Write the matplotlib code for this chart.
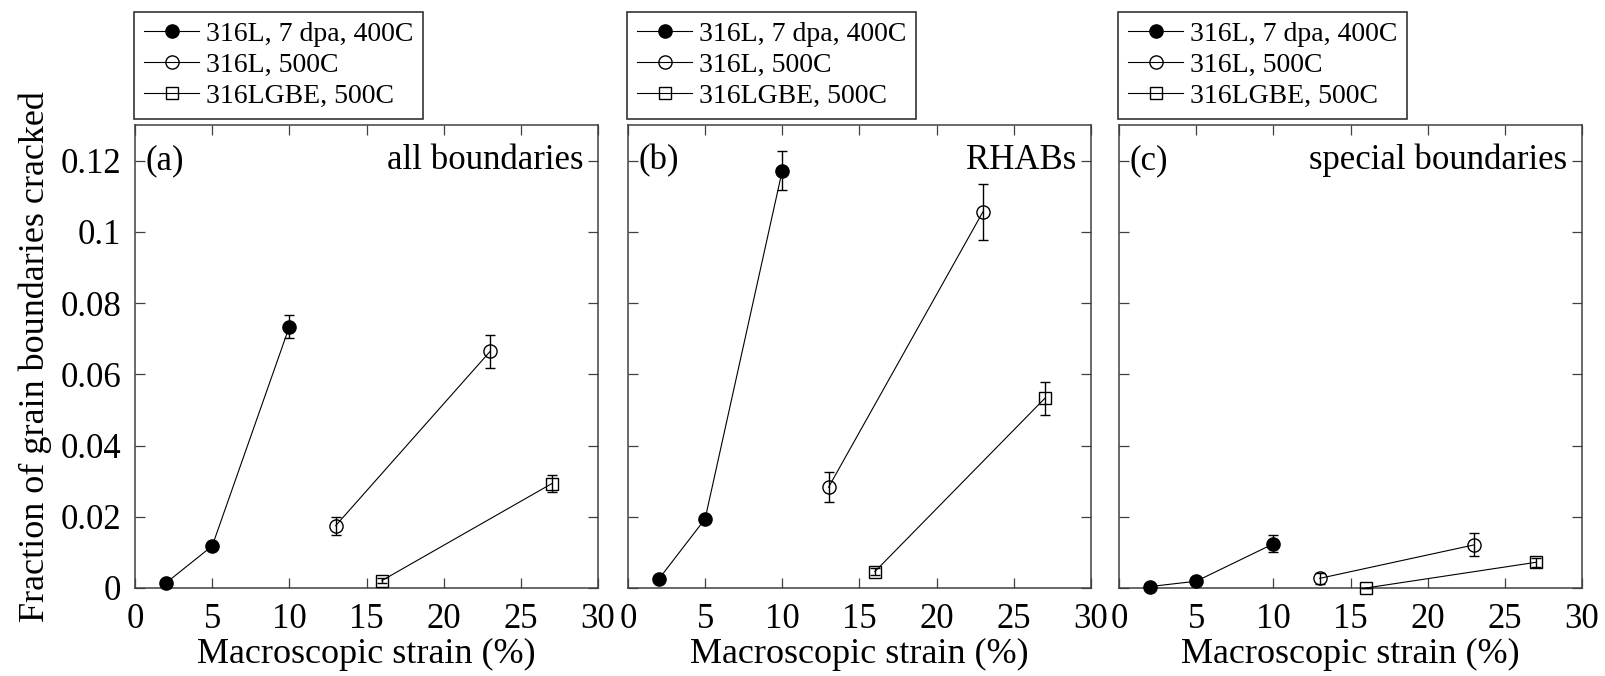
import matplotlib
matplotlib.use("Agg")
import matplotlib.pyplot as plt
from matplotlib.ticker import FuncFormatter, MultipleLocator

plt.rcParams['font.family'] = ['Liberation Serif', 'DejaVu Serif']

# ---- data -------------------------------------------------------------
series_labels = ["316L, 7 dpa, 400C", "316L, 500C", "316LGBE, 500C"]
strain_irr = [2, 5, 10]
strain_316l = [13, 23]
strain_gbe = [16, 27]

panel_tags = ["(a)", "(b)", "(c)"]
panel_titles = ["all boundaries", "RHABs", "special boundaries"]

# (a) all boundaries
all_irr = [0.0014, 0.0118, 0.0734]
all_irr_err = [0.0, 0.0, 0.0032]
all_316l = [0.0175, 0.0664]
all_316l_err = [0.0025, 0.0047]
all_gbe = [0.0021, 0.0293]
all_gbe_err = [0.0008, 0.0024]

# (b) RHABs
rhab_irr = [0.0025, 0.0194, 0.1172]
rhab_irr_err = [0.0, 0.0, 0.0054]
rhab_316l = [0.0283, 0.1056]
rhab_316l_err = [0.0042, 0.0078]
rhab_gbe = [0.0046, 0.0532]
rhab_gbe_err = [0.0010, 0.0047]

# (c) special boundaries
spec_irr = [0.0004, 0.0019, 0.0124]
spec_irr_err = [0.0, 0.0, 0.0024]
spec_316l = [0.0027, 0.0121]
spec_316l_err = [0.0015, 0.0032]
spec_gbe = [0.0, 0.0072]
spec_gbe_err = [0.0, 0.0012]

panels = [
    (all_irr, all_irr_err, all_316l, all_316l_err, all_gbe, all_gbe_err),
    (rhab_irr, rhab_irr_err, rhab_316l, rhab_316l_err, rhab_gbe, rhab_gbe_err),
    (spec_irr, spec_irr_err, spec_316l, spec_316l_err, spec_gbe, spec_gbe_err),
]

# ---- figure -----------------------------------------------------------
fig = plt.figure(figsize=(16.06, 6.76), dpi=100)
lefts = [0.0841, 0.391, 0.6968]
bottom, width, height = 0.1302, 0.2883, 0.685
spine_col = '#404040'

styles = [
    dict(marker='o', ms=9.5, mfc='black', mec='black', mew=1.0),
    dict(marker='o', ms=9.5, mfc='none', mec='black', mew=1.0),
    dict(marker='s', ms=9.0, mfc='none', mec='black', mew=1.0),
]
xs = [strain_irr, strain_316l, strain_gbe]

for i, (data, left) in enumerate(zip(panels, lefts)):
    ax = fig.add_axes([left, bottom, width, height])
    ys = [data[0], data[2], data[4]]
    es = [data[1], data[3], data[5]]
    for x, y, e, st, lab in zip(xs, ys, es, styles, series_labels):
        ax.plot(x, y, color='black', lw=0.8, label=lab, clip_on=False,
                zorder=3, **st)
        ax.errorbar(x, y, yerr=e, fmt='none', ecolor='black', elinewidth=1.0,
                    capsize=3.5, capthick=1.0, clip_on=False, zorder=4)

    ax.set_xlim(0, 30)
    ax.set_ylim(0, 0.13)
    ax.xaxis.set_major_locator(MultipleLocator(5))
    ax.yaxis.set_major_locator(MultipleLocator(0.02))
    ax.yaxis.set_major_formatter(FuncFormatter(lambda v, p: f"{v:g}"))
    ax.tick_params(axis='both', which='both', direction='in', top=True,
                   right=True, length=7, width=0.9, color=spine_col,
                   labelsize=25)
    ax.tick_params(axis='x', pad=11)
    ax.tick_params(axis='y', pad=10)
    for sp in ax.spines.values():
        sp.set_color(spine_col)
        sp.set_linewidth(1.1)

    if i == 0:
        ax.set_ylabel("Fraction of grain boundaries cracked", fontsize=26,
                      labelpad=6)
    else:
        ax.tick_params(axis='y', labelleft=False)
    ax.set_xlabel("Macroscopic strain (%)", fontsize=26, labelpad=1)

    tr = ax.get_yaxis_transform()
    ax.text(0.022, 0.12, panel_tags[i], transform=tr, fontsize=25,
            ha='left', va='center')
    ax.text(0.968, 0.12, panel_titles[i], transform=tr, fontsize=25,
            ha='right', va='center')

    leg = ax.legend(loc='lower left', bbox_to_anchor=(-0.002, 1.013),
                    borderaxespad=0, fancybox=False, framealpha=1,
                    edgecolor='#333333', fontsize=20, handlelength=2.0,
                    handletextpad=0.25, labelspacing=0.2, borderpad=0.35,
                    markerscale=1.0)
    leg.get_frame().set_linewidth(1.2)

fig.savefig("out.png", dpi=100)
